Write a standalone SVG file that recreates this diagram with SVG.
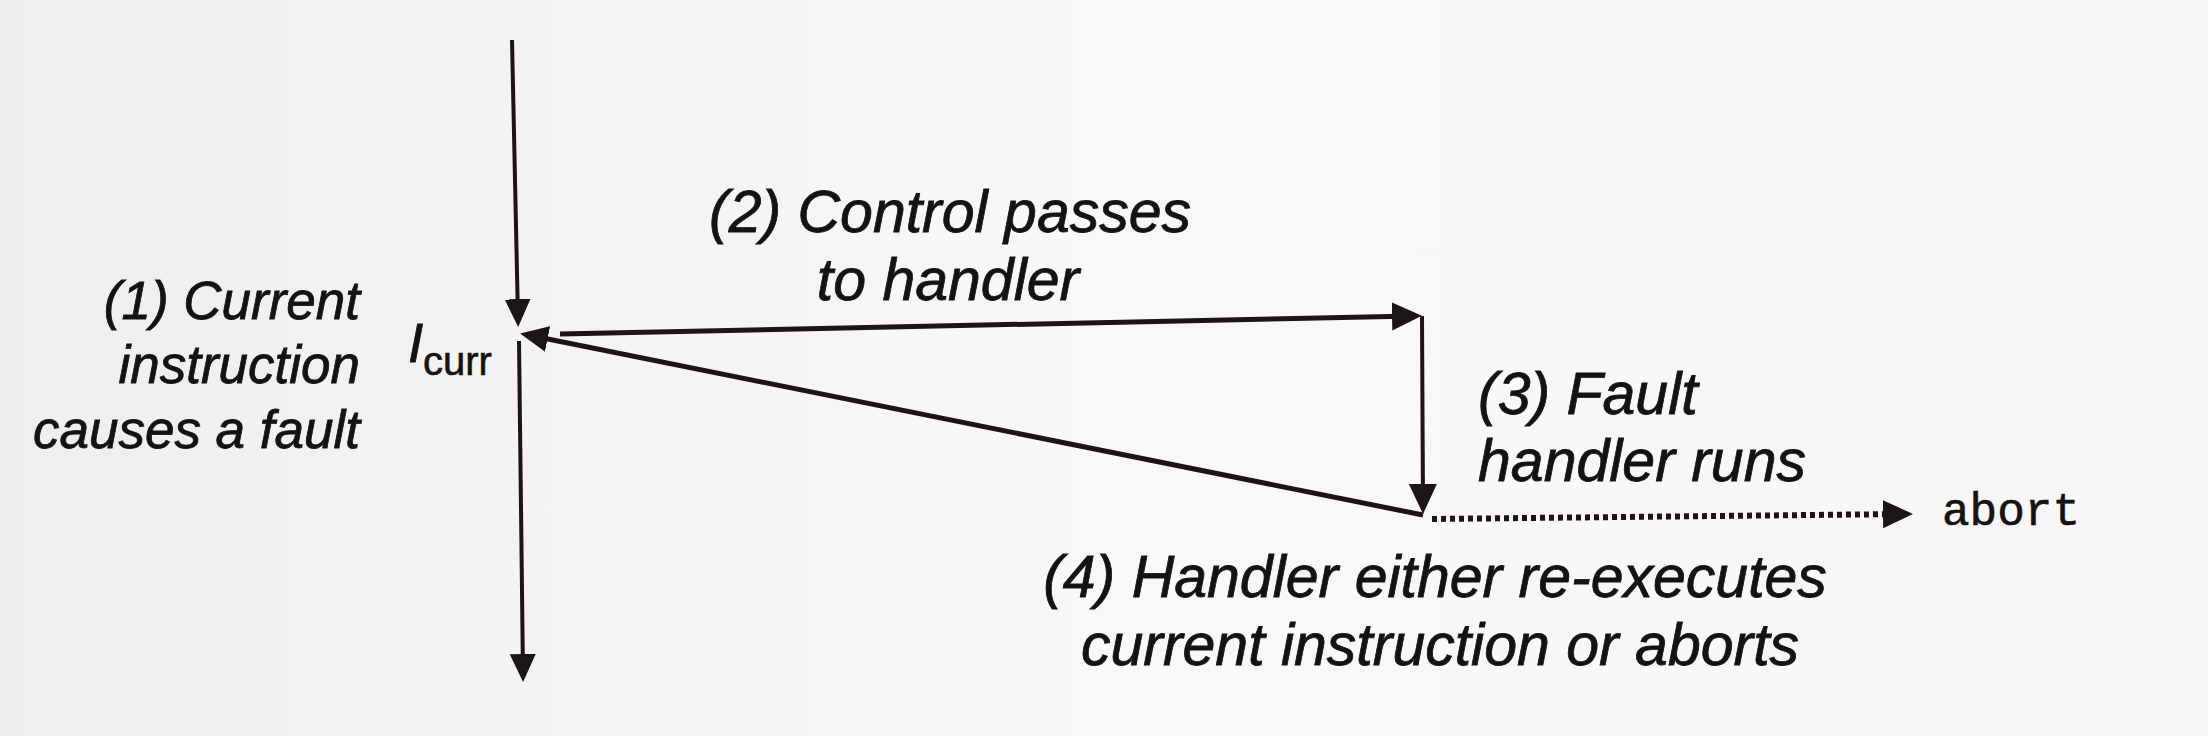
<svg xmlns="http://www.w3.org/2000/svg" width="2208" height="736" viewBox="0 0 2208 736">
  <defs>
    <linearGradient id="paper" x1="0" y1="0" x2="1" y2="0">
      <stop offset="0" stop-color="#f0eded"/>
      <stop offset="0.5" stop-color="#f9f7f7"/>
      <stop offset="1" stop-color="#f8f6f6"/>
    </linearGradient>
    <marker id="ah" markerUnits="userSpaceOnUse" markerWidth="32" markerHeight="30" refX="22" refY="15" orient="auto" viewBox="0 0 32 30">
      <path d="M0,1 L30,15 L0,29 Z" fill="#1a1616"/>
    </marker>
    <marker id="ahs" markerUnits="userSpaceOnUse" markerWidth="30" markerHeight="28" refX="20" refY="14" orient="auto" viewBox="0 0 30 28">
      <path d="M0,1 L28,14 L0,27 Z" fill="#1a1616"/>
    </marker>
  </defs>
  <style>
    .lbl { font-family: "Liberation Sans", Arial, Helvetica, sans-serif; font-style: italic; fill: #151212; stroke: #151212; stroke-width: 0.8px; }
    .big { font-size: 59px; }
    .left { font-size: 53px; }
    .mono { font-family: "Liberation Mono", "Courier New", monospace; font-size: 46px; fill: #151212; stroke: #151212; stroke-width: 0.6px; }
    .sub { font-family: "Liberation Sans", Arial, sans-serif; font-size: 40px; fill: #151212; stroke: #151212; stroke-width: 0.6px; }
    .ln { stroke: #1a1616; fill: none; stroke-linecap: butt; }
  </style>
  <rect width="2208" height="736" fill="url(#paper)"/>

  <g id="connectors">
    <line class="ln" x1="512" y1="40" x2="518" y2="319" stroke-width="4" marker-end="url(#ahs)"/>
    <line class="ln" x1="519" y1="341" x2="523" y2="674" stroke-width="4" marker-end="url(#ahs)"/>
    <line class="ln" x1="560" y1="334" x2="1414" y2="316" stroke-width="5" marker-end="url(#ah)"/>
    <line class="ln" x1="1422" y1="316" x2="1423" y2="506" stroke-width="4" marker-end="url(#ah)"/>
    <line class="ln" x1="1423" y1="515" x2="528" y2="335" stroke-width="5" marker-end="url(#ahs)"/>
    <line class="ln" x1="1432" y1="519" x2="1905" y2="514" stroke-width="6" stroke-dasharray="5 4" marker-end="url(#ah)"/>
  </g>

  <g id="label-current">
    <text class="lbl left" x="360" y="319" text-anchor="end">(1) Current</text>
    <text class="lbl left" x="360" y="383" text-anchor="end">instruction</text>
    <text class="lbl left" x="360" y="448" text-anchor="end">causes a fault</text>
  </g>

  <g id="label-icurr">
    <text class="lbl" x="408" y="362" font-size="55">I</text>
    <text class="sub" x="423" y="375">curr</text>
  </g>

  <g id="label-control">
    <text class="lbl big" x="950" y="232" text-anchor="middle">(2) Control passes</text>
    <text class="lbl big" x="948" y="300" text-anchor="middle">to handler</text>
  </g>

  <g id="label-fault">
    <text class="lbl big" x="1478" y="414">(3) Fault</text>
    <text class="lbl big" x="1478" y="481">handler runs</text>
  </g>

  <g id="label-handler">
    <text class="lbl big" x="1435" y="597" text-anchor="middle">(4) Handler either re-executes</text>
    <text class="lbl big" x="1440" y="665" text-anchor="middle">current instruction or aborts</text>
  </g>

  <g id="node-abort">
    <text class="mono" x="1942" y="525">abort</text>
  </g>
</svg>
